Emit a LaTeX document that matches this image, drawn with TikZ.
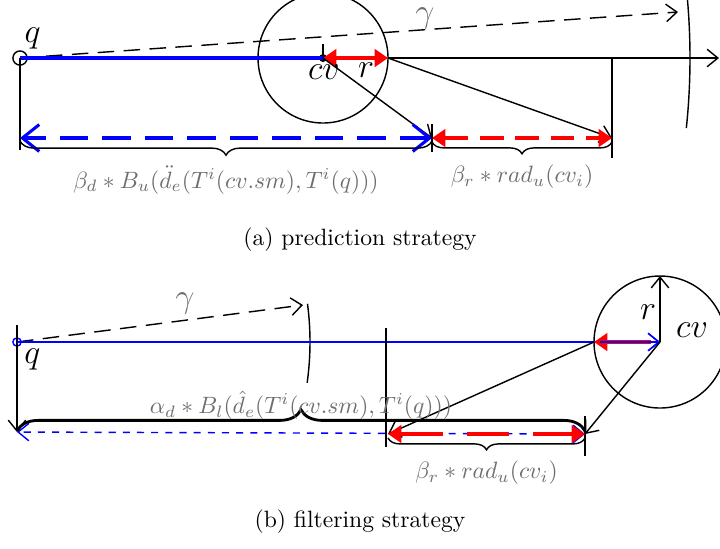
\documentclass[tikz,border=0pt]{standalone}
\usepackage{amsmath,amssymb}
\usepackage{tikz}
\usetikzlibrary{arrows.meta,positioning,calc,decorations.pathreplacing}
\definecolor{lblgray}{HTML}{6E6E6E}

\begin{document}
\begin{tikzpicture}[
  x=0.4236pt,y=-0.4236pt,
  line width=0.6pt,
  pt/.style={font=\Large},
  formula/.style={text=lblgray,font=\normalsize},
  bluethick/.style={draw=blue,line width=1.3pt},
  bluearr/.style={draw=blue,line width=1.3pt,dash pattern=on 12pt off 6pt,{Straight Barb[length=2.5mm,width=4mm]}-{Straight Barb[length=2.5mm,width=4mm]}},
  redarr/.style={draw=red,line width=1.7pt,{Triangle[length=2mm,width=2.6mm]}-{Triangle[length=2mm,width=2.6mm]}},
  reddash/.style={redarr,dash pattern=on 10pt off 5pt},
  tip/.style={-{Straight Barb[length=1.6mm,width=2.6mm]}},
  brace/.style={decorate,decoration={brace,amplitude=5pt}}
]
\useasboundingbox (0,0) rectangle (720,548);

% (a) prediction strategy
\node[draw,circle,inner sep=0pt,minimum size=6pt] (qa) at (20,58) {};
\node[pt,above right=-2pt and -4pt of qa] (qalbl) {$q$};
\coordinate (cva) at (323,58);
\coordinate (ra) at (388,58);
\coordinate (enda) at (719,58);
\coordinate (ga) at (678,12);
\coordinate (la) at (432,138);
\coordinate (ma) at (612,138);
\coordinate (za) at (20,138);
\draw (cva) circle[radius=65];
\fill (cva) circle[radius=4];
\draw (323,44) -- (cva);
\draw[dash pattern=on 7pt off 4pt,tip] (qa.center) -- (ga);
\node[text=lblgray,font=\Large] (gala) at (425,18) {$\gamma$};
\draw (qa.center) ++(-5:670) arc[start angle=-5,end angle=6,radius=670];
\draw[tip] (ra) -- (enda);
\draw[bluethick] (qa.center) -- (cva);
\draw[redarr] (cva) -- (ra);
\node[pt] (cvalbl) at (324,72) {$cv$};
\node[pt] (ralbl) at (366,70) {$r$};
\draw[tip] (ra) -- (ma);
\draw[tip] (cva) -- (la);
\draw (qa.center) -- (20,150);
\draw (432,124) -- (432,152);
\draw (612,58) -- (612,158);
\draw[bluearr] (la) -- (za);
\draw[reddash] (la) -- (ma);
\draw[brace,decoration={mirror,amplitude=6pt}] (20,141) -- (432,141)
  node[midway,below=7pt,formula] (fa) {$\beta_d * B_u(\ddot{d}_e(T^i(cv.sm),T^i(q)))$};
\draw[brace,decoration={mirror}] (432,142) -- (612,142)
  node[midway,below=6pt,formula] (fb) {$\beta_r * rad_u(cv_i)$};
\node (capa) at (360,240) {(a) prediction strategy};

% (b) filtering strategy
\node[draw=blue,circle,inner sep=0pt,minimum size=3.5pt] (qb) at (17,342) {};
\node[pt,below right=-2pt and -2pt of qb] (qblbl) {$q$};
\coordinate (cvb) at (660,342);
\coordinate (lb) at (594,342);
\coordinate (topb) at (660,276);
\coordinate (ab) at (388,434);
\coordinate (bb) at (585,434);
\coordinate (zb) at (17,432);
\coordinate (gb) at (303,305);
\draw (cvb) circle[radius=66];
\draw[tip] (17,325) -- (zb);
\draw[dash pattern=on 7pt off 4pt,tip] (qb.center) -- (gb);
\node[text=lblgray,font=\Large] (galb) at (185,303) {$\gamma$};
\draw (qb.center) ++(-7.5:293) arc[start angle=-7.5,end angle=8,radius=293];
\draw[draw=blue,line width=0.6pt,tip] (qb.center) -- (cvb);
\draw[draw=red,line width=1.7pt,{Triangle[length=2mm,width=2.6mm]}-] (lb) -- (651,342);
\draw[draw=blue,line width=0.6pt,tip] (600,342) -- (cvb);
\draw[tip] (cvb) -- (topb);
\node[pt] (rblbl) at (648,312) {$r$};
\node[pt] (cvblbl) at (692,330) {$cv$};
\draw[tip] (lb) -- (ab);
\draw[tip] (cvb) -- (bb);
\draw (386,328) -- (386,447);
\draw (585,416) -- (585,456);
\draw[draw=blue,line width=0.6pt,dashed,{Straight Barb[length=1.6mm,width=2.6mm]}-{Straight Barb[length=1.6mm,width=2.6mm]}] (bb) -- (zb);
\draw[reddash,dash pattern=on 18pt off 10pt] (ab) -- (bb);
\draw[brace,line width=1.2pt,decoration={amplitude=9pt}] (17,431) -- (585,431)
  node[midway,above=1pt,formula] (fc) {$\alpha_d * B_l(\hat{d}_e(T^i(cv.sm),T^i(q)))$};
\draw[brace,decoration={mirror}] (388,438) -- (585,438)
  node[midway,below=6pt,formula] (fd) {$\beta_r * rad_u(cv_i)$};
\node (capb) at (360,522) {(b) filtering strategy};
\end{tikzpicture}
\end{document}
